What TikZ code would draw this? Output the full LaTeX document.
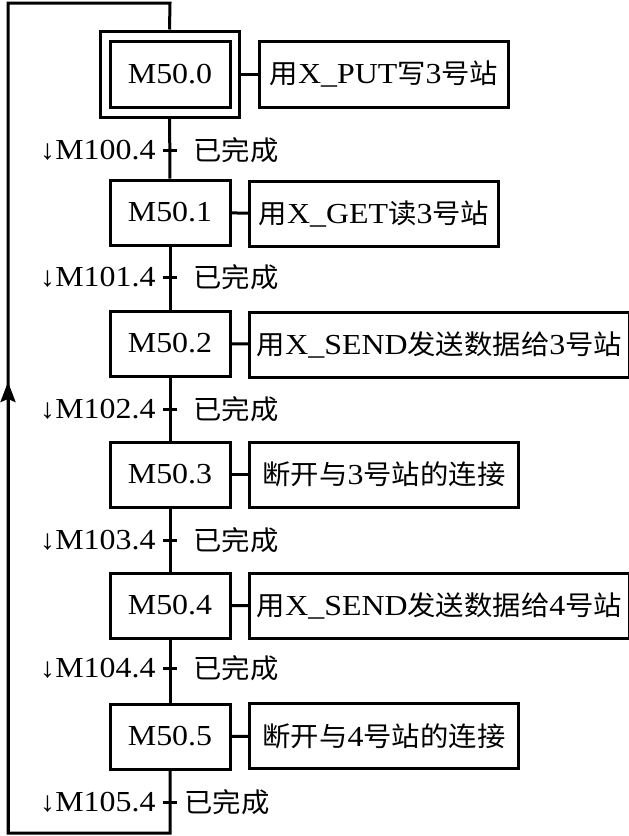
\documentclass[tikz,border=0pt]{standalone}
\usepackage{fontspec}
\setmainfont[FakeStretch=1.1]{Liberation Serif}
\newfontfamily\cjk[FakeStretch=1.05]{Noto Sans CJK SC}
\newcommand{\zh}[1]{{\cjk\fontsize{27}{32}\selectfont #1}}
\newcommand{\dnarrow}{{\fontsize{28}{32}\selectfont↓}}
\usetikzlibrary{arrows.meta}
\begin{document}
\begin{tikzpicture}[x=1pt,y=-1pt,line width=3pt,
  every node/.style={font=\fontsize{29}{32}\selectfont,inner sep=0pt},
  stepbox/.style={draw,minimum width=120pt,minimum height=65pt},
  actbox/.style={draw,anchor=west,minimum height=65pt},
  lbl/.style={anchor=east},
  done/.style={anchor=west}]
\useasboundingbox (0,0) rectangle (629,836);
% initial step (double box)
\node[draw,minimum width=139pt,minimum height=86pt] (s0o) at (169.5,74) {};
\node[stepbox,minimum height=66pt] (s0) at (170,74) {M50.0};
\node[stepbox] (s1) at (170,212.5) {M50.1};
\node[stepbox] (s2) at (170,343.5) {M50.2};
\node[stepbox] (s3) at (170,474.5) {M50.3};
\node[stepbox] (s4) at (170,605.5) {M50.4};
\node[stepbox] (s5) at (170,736.5) {M50.5};
% actions
\node[actbox,minimum width=249pt,minimum height=66pt] (a0) at (258,74) {\zh{用}X\_PUT\zh{写}3\zh{号站}};
\node[actbox,minimum width=249pt] (a1) at (248,214) {\zh{用}X\_GET\zh{读}3\zh{号站}};
\node[actbox,minimum width=380pt] (a2) at (248,345) {\zh{用}X\_SEND\zh{发送数据给}3\zh{号站}};
\node[actbox,minimum width=269pt] (a3) at (248,474.5) {\zh{断开与}3\zh{号站的连接}};
\node[actbox,minimum width=380pt] (a4) at (248,606) {\zh{用}X\_SEND\zh{发送数据给}4\zh{号站}};
\node[actbox,minimum width=269pt] (a5) at (248,736) {\zh{断开与}4\zh{号站的连接}};
\draw (s0o) -- (a0);
\foreach \i in {1,...,5} {\draw (s\i) -- (a\i);}
% transitions
\coordinate (t1) at (170,150);
\coordinate (t2) at (170,277);
\coordinate (t3) at (170,409);
\coordinate (t4) at (170,540);
\coordinate (t5) at (170,668);
\coordinate (t6) at (170,802);
\node[lbl] (l1) at (157,150) {\dnarrow M100.4};
\node[lbl] (l2) at (157,277) {\dnarrow M101.4};
\node[lbl] (l3) at (157,409) {\dnarrow M102.4};
\node[lbl] (l4) at (157,540) {\dnarrow M103.4};
\node[lbl] (l5) at (157,668) {\dnarrow M104.4};
\node[lbl] (l6) at (157,802) {\dnarrow M105.4};
\node[done] (d1) at (192,150) {\zh{已完成}};
\node[done] (d2) at (192,277) {\zh{已完成}};
\node[done] (d3) at (192,409) {\zh{已完成}};
\node[done] (d4) at (192,540) {\zh{已完成}};
\node[done] (d5) at (192,668) {\zh{已完成}};
\node[done] (d6) at (183,802) {\zh{已完成}};
\foreach \i in {1,...,6} {\draw ([xshift=-7pt]t\i) -- ([xshift=7pt]t\i);}
% vertical links
\draw (s0o) -- (s1);
\draw (s1) -- (s2);
\draw (s2) -- (s3);
\draw (s3) -- (s4);
\draw (s4) -- (s5);
% return loop
\coordinate (b1) at (170,833);
\coordinate (b2) at (8,833);
\coordinate (b3) at (8,3);
\coordinate (b4) at (170,3);
\coordinate (arr) at (8,382);
\draw[line join=miter] (s5.south) -- (b1) -- (b2) -- (b3) -- (b4) -- (s0o.north);
\draw[-{Stealth[length=20pt,width=15pt,inset=3pt]}] (b2) -- (arr);
\end{tikzpicture}
\end{document}
